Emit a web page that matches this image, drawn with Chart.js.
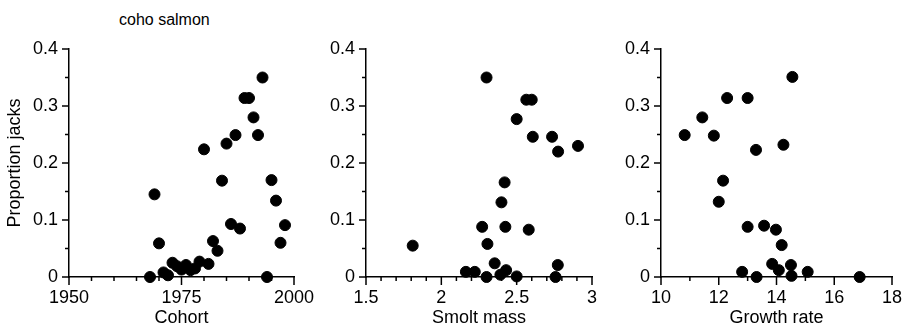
<!DOCTYPE html>
<html>
<head>
<meta charset="utf-8">
<script src="https://cdn.jsdelivr.net/npm/chart.js@4/dist/chart.umd.min.js"></script>
<style>
  body { margin: 0; background: #fff; }
  #wrap { position: relative; width: 905px; height: 329px; }
  #wrap canvas { position: absolute; left: 0; top: 0; }
  #title { position: absolute; left: 119px; top: 11px; font: 16px "Liberation Sans", Arial, sans-serif; color: #000; }
</style>
</head>
<body>
<div id="wrap">
  <div id="title">coho salmon</div>
  <canvas id="c1" width="905" height="329"></canvas>
  <canvas id="c2" width="905" height="329"></canvas>
  <canvas id="c3" width="905" height="329"></canvas>
</div>
<script>
// proportion of jacks vs cohort year
const cohortYears = [1968, 1969, 1970, 1971, 1972, 1973, 1974, 1975, 1976, 1977, 1978, 1979, 1980, 1981, 1982, 1983,
    1984, 1985, 1986, 1987, 1988, 1989, 1990, 1991, 1992, 1993, 1994, 1995, 1996, 1997, 1998];
const cohortJacks = [0, 0.145, 0.059, 0.008, 0.003, 0.025, 0.019, 0.013, 0.021, 0.012, 0.015, 0.027, 0.224, 0.023, 0.063, 0.046,
    0.169, 0.234, 0.093, 0.249, 0.085, 0.314, 0.314, 0.28, 0.249, 0.35, 0, 0.17, 0.134, 0.06, 0.091];

// proportion of jacks vs smolt mass
const smoltMass = [1.81, 2.163, 2.222, 2.271, 2.30, 2.306, 2.354, 2.392, 2.399, 2.42, 2.425, 2.43, 2.5, 2.58, 2.758, 2.773,
    2.30, 2.564, 2.60, 2.50, 2.607, 2.735, 2.775, 2.907];
const smoltJacks = [0.055, 0.009, 0.009, 0.088, 0, 0.058, 0.024, 0.004, 0.131, 0.166, 0.088, 0.012, 0.001, 0.083, 0, 0.021,
    0.35, 0.311, 0.311, 0.277, 0.246, 0.246, 0.22, 0.23];

// proportion of jacks vs growth rate
const growthRate = [12.15, 12.0, 13.0, 13.57, 13.98, 14.18, 12.81, 13.31, 13.85, 14.08, 14.5, 14.52, 15.08, 16.88,
    14.55, 12.29, 13.0, 11.43, 10.82, 11.83, 13.29, 14.24];
const growthJacks = [0.169, 0.132, 0.088, 0.09, 0.083, 0.056, 0.009, 0, 0.023, 0.012, 0.021, 0.002, 0.009, 0,
    0.351, 0.314, 0.314, 0.28, 0.249, 0.248, 0.223, 0.232];

const FONT = '"Liberation Sans", Arial, sans-serif';
const W = 905, H = 329;
const TOP = 49, BOTTOM = 277;

// y axis: minor every 0.05, labels every 0.1
const yMajor = v => Math.round(v * 20) % 2 === 0;
const yLabel = v => v === 0 ? '0' : v.toFixed(1);

// tick marks on both axes, long for labelled values and short for the rest
function axisTicks(isMajor) {
    return {
        id: 'axisTicks',
        afterDraw(chart) {
            const ctx = chart.ctx;
            const xs = chart.scales.x, ys = chart.scales.y;
            ctx.save();
            ctx.strokeStyle = '#000';
            ctx.lineWidth = 1.5;
            xs.ticks.forEach(t => {
                const px = xs.getPixelForValue(t.value);
                const len = isMajor(t.value) ? 8 : 4;
                ctx.beginPath(); ctx.moveTo(px, xs.top); ctx.lineTo(px, xs.top + len); ctx.stroke();
            });
            ys.ticks.forEach(t => {
                const py = ys.getPixelForValue(t.value);
                const len = yMajor(t.value) ? 7 : 4;
                ctx.beginPath(); ctx.moveTo(ys.right, py); ctx.lineTo(ys.right - len, py); ctx.stroke();
            });
            ctx.restore();
        }
    };
}

function makeChart(id, xs, ys, cfg) {
    const points = xs.map((x, i) => ({ x: x, y: ys[i] }));
    const isMajor = cfg.isMajor;
    return new Chart(document.getElementById(id), {
        type: 'scatter',
        data: {
            datasets: [{
                data: points,
                backgroundColor: '#000',
                borderColor: '#000',
                pointRadius: 5.5,
                pointHoverRadius: 5.5,
                clip: false
            }]
        },
        options: {
            responsive: false,
            animation: false,
            devicePixelRatio: 1,
            layout: { padding: { left: 0, right: W - cfg.right, top: TOP, bottom: 0 } },
            plugins: { legend: { display: false }, tooltip: { enabled: false } },
            scales: {
                x: {
                    type: 'linear',
                    min: cfg.min, max: cfg.max,
                    afterFit: s => { s.height = H - BOTTOM; },
                    border: { display: true, color: '#000', width: 1.5 },
                    grid: { drawOnChartArea: false, drawTicks: true, tickLength: 8, tickColor: 'rgba(0,0,0,0)' },
                    ticks: {
                        stepSize: cfg.step, autoSkip: false, maxRotation: 0, padding: 2,
                        color: '#000', font: { family: FONT, size: 18 },
                        callback: v => isMajor(v) ? cfg.label(v) : ''
                    },
                    title: {
                        display: true, text: cfg.title, color: '#000',
                        font: { family: FONT, size: 18 }, padding: { top: 0, bottom: 0 }
                    }
                },
                y: {
                    type: 'linear',
                    min: 0, max: 0.4,
                    afterFit: s => { s.width = cfg.left; },
                    border: { display: true, color: '#000', width: 1.5 },
                    grid: { drawOnChartArea: false, drawTicks: true, tickLength: 7, tickColor: 'rgba(0,0,0,0)' },
                    ticks: {
                        stepSize: 0.05, autoSkip: false, padding: 4,
                        color: '#000', font: { family: FONT, size: 18 },
                        callback: v => yMajor(v) ? yLabel(v) : ''
                    },
                    title: {
                        display: !!cfg.yTitle, text: cfg.yTitle || '', color: '#000',
                        font: { family: FONT, size: 18 }, padding: { top: 4, bottom: 0 }
                    }
                }
            }
        },
        plugins: [axisTicks(isMajor)]
    });
}

makeChart('c1', cohortYears, cohortJacks, {
    left: 69, right: 294, min: 1950, max: 2000, step: 5,
    isMajor: v => Math.round(v) % 25 === 0,
    label: v => String(Math.round(v)),
    title: 'Cohort', yTitle: 'Proportion jacks'
});

makeChart('c2', smoltMass, smoltJacks, {
    left: 366, right: 592, min: 1.5, max: 3, step: 0.1,
    isMajor: v => Math.round(v * 10) % 5 === 0,
    label: v => String(Math.round(v * 10) / 10),
    title: 'Smolt mass'
});

makeChart('c3', growthRate, growthJacks, {
    left: 661, right: 892, min: 10, max: 18, step: 1,
    isMajor: v => Math.round(v) % 2 === 0,
    label: v => String(Math.round(v)),
    title: 'Growth rate'
});
</script>
</body>
</html>
